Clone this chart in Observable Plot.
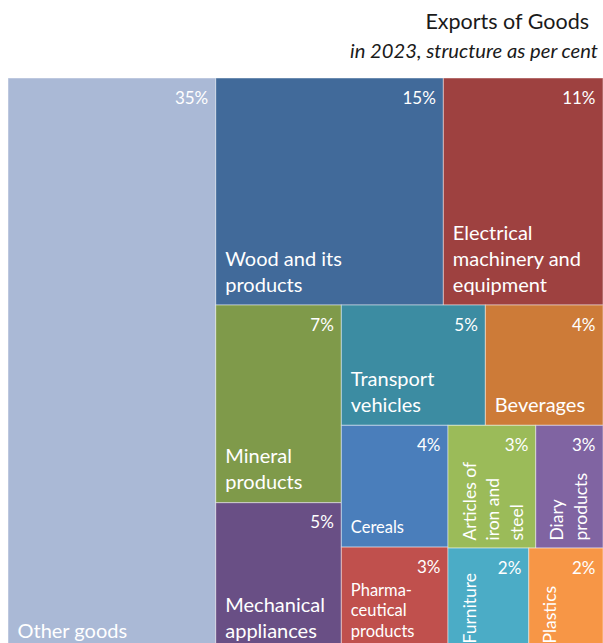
<!DOCTYPE html>
<html>
<head>
<meta charset="utf-8">
<script src="https://cdn.jsdelivr.net/npm/d3@7"></script>
<script src="https://cdn.jsdelivr.net/npm/@observablehq/plot@0.6"></script>
<style>
  html, body { margin: 0; padding: 0; background: #fff; overflow: hidden; }
  #chart { position: relative; width: 603px; font-family: Lato, "Open Sans", sans-serif; }
  #header { position: relative; height: 78px; }
  #title { position: absolute; right: 14px; top: 9px; font-size: 21.5px; line-height: 1.2; color: #1a1a1a; white-space: nowrap; }
  #subtitle { position: absolute; right: 5px; top: 37.5px; font-size: 20.2px; line-height: 1.2; font-style: italic; color: #1a1a1a; white-space: nowrap; }
  svg { display: block; }
</style>
</head>
<body>
<div id="chart">
  <div id="header">
    <div id="title">Exports of Goods</div>
    <div id="subtitle">in 2023, structure as per cent</div>
  </div>
</div>
<script>
// ---- data ----
const categories = [
  "Other goods", "Wood and its products", "Electrical machinery and equipment",
  "Mineral products", "Mechanical appliances", "Transport vehicles", "Beverages",
  "Cereals", "Pharmaceutical products", "Articles of iron and steel", "Diary products",
  "Furniture", "Plastics"
];
const shares = [34.91, 15.15, 10.63, 7.28, 5.46, 5.08, 4.15, 3.81, 3.25, 3.16, 2.42, 2.44, 2.24];
const pctLabels = ["35%", "15%", "11%", "7%", "5%", "5%", "4%", "4%", "3%", "3%", "3%", "2%", "2%"];
const nameLabels = [
  "Other goods", "Wood and its\nproducts", "Electrical\nmachinery and\nequipment",
  "Mineral\nproducts", "Mechanical\nappliances", "Transport\nvehicles", "Beverages",
  "Cereals", "Pharma-\nceutical\nproducts", "Articles of\niron and\nsteel", "Diary\nproducts",
  "Furniture", "Plastics"
];
const colors = [
  "#AAB9D6", "#416A9A", "#9E4140", "#7F9A4A", "#694F85", "#3C8CA2", "#CD7B38",
  "#4A7EBB", "#C0504D", "#9BBB59", "#8064A2", "#4BACC6", "#F79646"
];
// order in which the cells are tiled (rows / columns of the treemap)
const tileGroups = [[0], [1, 2], [3, 4], [5, 6], [7, 8], [9, 10], [11, 12]];

// ---- layout ----
const W = 595, H = 573;
function nest(k) {
  const g = {group: true, children: tileGroups[k].map(i => ({i}))};
  if (k === tileGroups.length - 1) return g;
  return {split: true, children: [g, nest(k + 1)]};
}
function tile(node, x0, y0, x1, y1) {
  if (node.data.split) {
    if (x1 - x0 < y1 - y0) { node.data.dir = "y"; d3.treemapSlice(node, x0, y0, x1, y1); }
    else { node.data.dir = "x"; d3.treemapDice(node, x0, y0, x1, y1); }
  } else {
    const dir = node.parent ? node.parent.data.dir : "x";
    if (dir === "y") d3.treemapDice(node, x0, y0, x1, y1);
    else d3.treemapSlice(node, x0, y0, x1, y1);
  }
}
const root = d3.hierarchy(nest(0)).sum(d => d.i !== undefined ? shares[d.i] : 0);
d3.treemap().size([W, H]).tile(tile)(root);
const cells = root.leaves().map(l => ({
  name: categories[l.data.i], pct: pctLabels[l.data.i], label: nameLabels[l.data.i],
  x0: l.x0, x1: l.x1, y0: l.y0, y1: l.y1, w: l.x1 - l.x0
}));
const big = cells.filter(d => d.w >= 110);
const mid = cells.filter(d => d.w >= 100 && d.w < 110);
const narrow = cells.filter(d => d.w < 100);

const plot = Plot.plot({
  width: 603,
  height: H,
  marginTop: 0, marginBottom: 0, marginLeft: 8, marginRight: 0,
  style: {fontFamily: "Lato, 'Open Sans', sans-serif", background: "transparent"},
  x: {domain: [0, W], axis: null},
  y: {domain: [0, H], reverse: true, axis: null},
  color: {domain: categories, range: colors},
  marks: [
    Plot.rect(cells, {x1: "x0", x2: "x1", y1: "y0", y2: "y1", fill: "name",
      stroke: "white", strokeOpacity: 0.45, strokeWidth: 1}),
    Plot.text(cells, {x: "x1", y: "y0", text: "pct", textAnchor: "end", lineAnchor: "bottom",
      dx: -8, dy: 25, fill: "white", fontSize: 17}),
    Plot.text(big, {x: "x0", y: "y1", text: "label", textAnchor: "start", lineAnchor: "bottom",
      dx: 9, dy: -14, fill: "white", fontSize: 20, lineHeight: 1.3}),
    Plot.text(mid, {x: "x0", y: "y1", text: "label", textAnchor: "start", lineAnchor: "bottom",
      dx: 9, dy: -15, fill: "white", fontSize: 16.5, lineHeight: 1.22}),
    Plot.text(narrow, {x: "x0", y: "y1", text: "label", textAnchor: "start", lineAnchor: "top",
      rotate: -90, dx: 10, dy: -8, fill: "white", fontSize: 17.5, lineHeight: 1.37})
  ]
});
document.getElementById("chart").appendChild(plot);
</script>
</body>
</html>
